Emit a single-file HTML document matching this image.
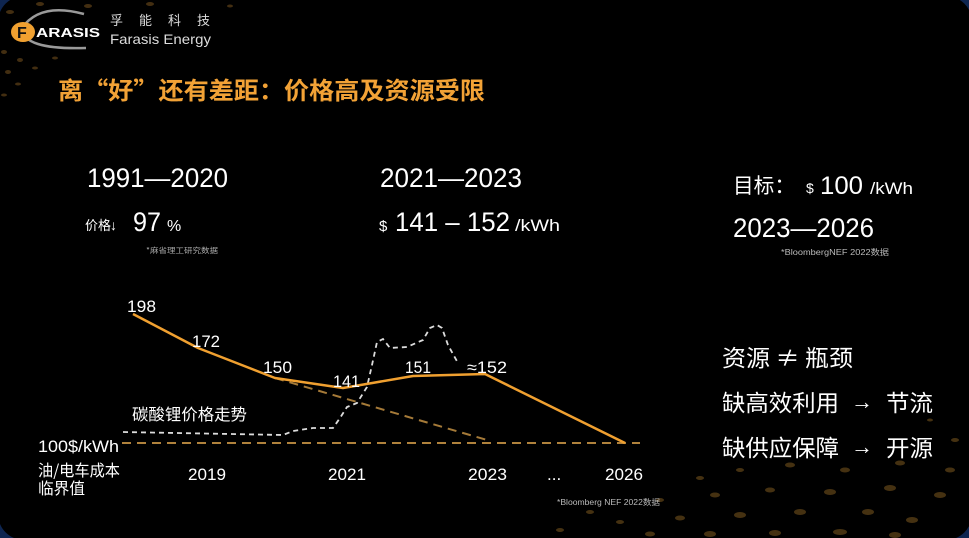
<!DOCTYPE html>
<html><head><meta charset="utf-8"><style>
html,body{margin:0;padding:0;background:#1a3f88;}
body{width:969px;height:538px;overflow:hidden;}
svg{display:block;}
text{font-family:"Liberation Sans","Noto Sans CJK SC",sans-serif;}
.cjk{font-family:"Noto Sans CJK SC","Liberation Sans",sans-serif;}
</style></head><body>
<svg width="969" height="538" viewBox="0 0 969 538" xmlns="http://www.w3.org/2000/svg">
<defs>
<radialGradient id="bg" cx="0.5" cy="0.5" r="0.7">
<stop offset="0" stop-color="#2a5bb0"/><stop offset="1" stop-color="#0e2550"/>
</radialGradient>
</defs>
<rect x="0" y="0" width="969" height="538" fill="url(#bg)"/>
<rect x="-2" y="-4" width="974" height="544" rx="26" ry="26" fill="#000"/>

<!-- dot patterns -->
<g fill="#7a5520" opacity="0.55">
<ellipse cx="10" cy="12" rx="4" ry="2"/><ellipse cx="40" cy="4" rx="4" ry="2"/><ellipse cx="88" cy="6" rx="4" ry="2"/>
<ellipse cx="4" cy="52" rx="3" ry="2"/><ellipse cx="20" cy="60" rx="3" ry="2"/><ellipse cx="8" cy="72" rx="3" ry="2"/>
<ellipse cx="35" cy="68" rx="3" ry="1.5"/><ellipse cx="55" cy="58" rx="3" ry="1.5"/><ellipse cx="18" cy="84" rx="3" ry="1.5"/>
<ellipse cx="4" cy="95" rx="3" ry="1.5"/><ellipse cx="150" cy="4" rx="4" ry="2"/><ellipse cx="230" cy="6" rx="3" ry="1.5"/>
</g>
<g fill="#8a6222" opacity="0.5">
<ellipse cx="700" cy="478" rx="4" ry="2"/><ellipse cx="740" cy="470" rx="4" ry="2"/><ellipse cx="790" cy="465" rx="5" ry="2.5"/>
<ellipse cx="845" cy="470" rx="5" ry="2.5"/><ellipse cx="900" cy="463" rx="5" ry="2.5"/><ellipse cx="950" cy="470" rx="5" ry="2.5"/>
<ellipse cx="660" cy="500" rx="4" ry="2"/><ellipse cx="715" cy="495" rx="5" ry="2.5"/><ellipse cx="770" cy="490" rx="5" ry="2.5"/>
<ellipse cx="830" cy="492" rx="6" ry="3"/><ellipse cx="890" cy="488" rx="6" ry="3"/><ellipse cx="940" cy="495" rx="6" ry="3"/>
<ellipse cx="620" cy="522" rx="4" ry="2"/><ellipse cx="680" cy="518" rx="5" ry="2.5"/><ellipse cx="740" cy="515" rx="6" ry="3"/>
<ellipse cx="800" cy="512" rx="6" ry="3"/><ellipse cx="868" cy="512" rx="6" ry="3"/><ellipse cx="912" cy="520" rx="6" ry="3"/>
<ellipse cx="650" cy="534" rx="5" ry="2.5"/><ellipse cx="710" cy="534" rx="6" ry="3"/><ellipse cx="775" cy="533" rx="6" ry="3"/>
<ellipse cx="840" cy="532" rx="7" ry="3"/><ellipse cx="895" cy="535" rx="6" ry="3"/><ellipse cx="590" cy="512" rx="4" ry="2"/>
<ellipse cx="560" cy="530" rx="4" ry="2"/><ellipse cx="955" cy="440" rx="4" ry="2"/><ellipse cx="930" cy="420" rx="3" ry="1.5"/>
</g>

<!-- logo -->
<path d="M84 14 Q40 2 22 28 Q22 50 86 48" fill="none" stroke="#9a9a9a" stroke-width="2.5"/>
<ellipse cx="23" cy="32" rx="12" ry="10" fill="#f0a030"/>
<text x="17" y="38" font-size="16" font-weight="bold" fill="#111">F</text>
<text x="36" y="37" font-size="13" font-weight="bold" fill="#fff" textLength="64" lengthAdjust="spacingAndGlyphs">ARASIS</text>
<text x="110" y="25" font-size="13" fill="#ddd" class="cjk" textLength="100" lengthAdjust="spacing">孚能科技</text>
<text x="110" y="44" font-size="14" fill="#ddd" textLength="101" lengthAdjust="spacingAndGlyphs">Farasis Energy</text>

<!-- title -->
<text x="58" y="99" font-size="24" font-weight="bold" fill="#f2a236" class="cjk" textLength="427" lengthAdjust="spacingAndGlyphs">离“好”还有差距：价格高及资源受限</text>

<!-- header stats -->
<text x="87" y="187" font-size="27" fill="#fff" textLength="141" lengthAdjust="spacingAndGlyphs">1991—2020</text>
<text x="380" y="187" font-size="27" fill="#fff" textLength="142" lengthAdjust="spacingAndGlyphs">2021—2023</text>

<text x="85" y="230" font-size="13" fill="#fff" class="cjk">价格</text>
<text x="110" y="230" font-size="14" fill="#fff">↓</text>
<text x="133" y="231" font-size="27" fill="#fff" textLength="28" lengthAdjust="spacingAndGlyphs">97</text>
<text x="167" y="231" font-size="16" fill="#fff">%</text>
<text x="146" y="253" font-size="7.5" fill="#aaa" class="cjk" textLength="72" lengthAdjust="spacingAndGlyphs">*麻省理工研究数据</text>

<text x="379" y="231" font-size="15" fill="#fff">$</text>
<text x="395" y="231" font-size="27" fill="#fff" textLength="115" lengthAdjust="spacingAndGlyphs">141 – 152</text>
<text x="515" y="231" font-size="17" fill="#fff" textLength="45" lengthAdjust="spacingAndGlyphs">/kWh</text>

<text x="733" y="193" font-size="21" fill="#fff" class="cjk" textLength="62" lengthAdjust="spacingAndGlyphs">目标：</text>
<text x="806" y="193" font-size="14" fill="#fff">$</text>
<text x="820" y="194" font-size="25" fill="#fff" textLength="43" lengthAdjust="spacingAndGlyphs">100</text>
<text x="870" y="194" font-size="17" fill="#fff" textLength="43" lengthAdjust="spacingAndGlyphs">/kWh</text>
<text x="733" y="237" font-size="27" fill="#fff" textLength="141" lengthAdjust="spacingAndGlyphs">2023—2026</text>
<text x="781" y="255" font-size="8" fill="#bbb" textLength="108" lengthAdjust="spacingAndGlyphs">*BloombergNEF 2022数据</text>

<!-- chart lines -->
<line x1="122" y1="443" x2="640" y2="443" stroke="#b0823c" stroke-width="2" stroke-dasharray="9 6"/>
<line x1="275" y1="378" x2="487" y2="440" stroke="#a57a38" stroke-width="2" stroke-dasharray="9 6"/>
<polyline points="123,432 283,435 293,431 313,428 333,428 340,418 347,407 357,403 362,395 367,387 372,365 377,342 383,339 390,348 407,347 423,340 430,328 437,325 442,328 448,345 458,363" fill="none" stroke="#dcdcdc" stroke-width="1.8" stroke-dasharray="5 4"/>
<polyline points="133,314 198,348 275,378 343,388 413,376 485,374 625,443" fill="none" stroke="#f0a030" stroke-width="2.5" stroke-linejoin="round"/>

<!-- point labels -->
<g font-size="17" fill="#fff">
<text x="127" y="312" textLength="29" lengthAdjust="spacingAndGlyphs">198</text>
<text x="192" y="347" textLength="28" lengthAdjust="spacingAndGlyphs">172</text>
<text x="263" y="373" textLength="29" lengthAdjust="spacingAndGlyphs">150</text>
<text x="333" y="387" textLength="27" lengthAdjust="spacingAndGlyphs">141</text>
<text x="405" y="373" textLength="26" lengthAdjust="spacingAndGlyphs">151</text>
<text x="467" y="373" textLength="40" lengthAdjust="spacingAndGlyphs">≈152</text>
<text x="188" y="480" textLength="38" lengthAdjust="spacingAndGlyphs">2019</text>
<text x="328" y="480" textLength="38" lengthAdjust="spacingAndGlyphs">2021</text>
<text x="468" y="480" textLength="39" lengthAdjust="spacingAndGlyphs">2023</text>
<text x="547" y="480">...</text>
<text x="605" y="480" textLength="38" lengthAdjust="spacingAndGlyphs">2026</text>
<text x="38" y="452" textLength="81" lengthAdjust="spacingAndGlyphs">100$/kWh</text>
</g>
<text x="132" y="420" font-size="16" fill="#fff" class="cjk" textLength="115" lengthAdjust="spacingAndGlyphs">碳酸锂价格走势</text>
<text x="38" y="476" font-size="16" fill="#fff" class="cjk" textLength="82" lengthAdjust="spacingAndGlyphs">油/电车成本</text>
<text x="38" y="494" font-size="16" fill="#fff" class="cjk" textLength="47" lengthAdjust="spacingAndGlyphs">临界值</text>
<text x="557" y="505" font-size="8" fill="#bbb" textLength="103" lengthAdjust="spacingAndGlyphs">*Bloomberg NEF 2022数据</text>

<!-- right list -->
<g font-size="23" fill="#fff">
<text x="722" y="366" class="cjk" textLength="131" lengthAdjust="spacingAndGlyphs">资源 ≠ 瓶颈</text>
<text x="722" y="411" class="cjk" textLength="117" lengthAdjust="spacingAndGlyphs">缺高效利用</text>
<text x="851" y="409" font-size="22">→</text>
<text x="886" y="411" class="cjk" textLength="47" lengthAdjust="spacingAndGlyphs">节流</text>
<text x="722" y="456" class="cjk" textLength="117" lengthAdjust="spacingAndGlyphs">缺供应保障</text>
<text x="851" y="454" font-size="22">→</text>
<text x="886" y="456" class="cjk" textLength="47" lengthAdjust="spacingAndGlyphs">开源</text>
</g>
</svg>
</body></html>
